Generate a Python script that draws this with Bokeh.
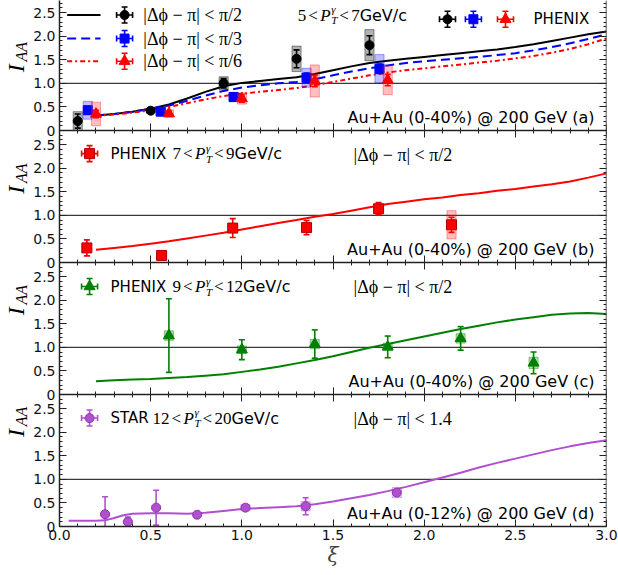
from math import pi
import numpy as np
from bokeh.plotting import figure
from bokeh.layouts import row
from bokeh.models import Range1d, LinearAxis, Label, Span, FixedTicker, PrintfTickFormatter
from bokeh.embed import file_html
from bokeh.resources import INLINE

# ---------------- ticks ----------------
x_ticks = [0.0, 0.5, 1.0, 1.5, 2.0, 2.5, 3.0]
x_tick_labels = ["0.0", "0.5", "1.0", "1.5", "2.0", "2.5", "3.0"]
x_minor_ticks = [round(0.1 * i, 1) for i in range(31)]
y_ticks = [0.0, 0.5, 1.0, 1.5, 2.0, 2.5]
y_tick_labels = ["0", "0.5", "1.0", "1.5", "2.0", "2.5"]
y_minor_ticks = [round(0.1 * i, 1) for i in range(29)]

# ---------------- panel (a): PHENIX 5<pT<7 ----------------
a_xi_black = [0.10, 0.50, 0.90, 1.30, 1.70]
a_iaa_black = [0.20, 0.42, 1.00, 1.52, 1.81]
a_err_black = [0.15, 0.05, 0.10, 0.19, 0.20]
a_sys_black = [0.20, 0.05, 0.14, 0.27, 0.33]

a_xi_blue = [0.155, 0.555, 0.955, 1.355, 1.755]
a_iaa_blue = [0.43, 0.40, 0.71, 1.12, 1.31]
a_err_blue = [0.08, 0.04, 0.06, 0.10, 0.10]
a_sys_blue = [0.19, 0.07, 0.10, 0.20, 0.30]

a_xi_red = [0.20, 0.60, 1.00, 1.40, 1.80]
a_iaa_red = [0.35, 0.36, 0.68, 1.05, 1.07]
a_err_red = [0.08, 0.05, 0.08, 0.12, 0.12]
a_sys_red = [0.25, 0.08, 0.12, 0.34, 0.31]

curve_xi = [0.2, 0.3, 0.4, 0.5, 0.6, 0.7, 0.8, 0.9, 1.0, 1.1, 1.2, 1.3, 1.4, 1.5,
            1.6, 1.7, 1.8, 1.9, 2.0, 2.1, 2.2, 2.3, 2.4, 2.5, 2.6, 2.7, 2.8, 2.9, 3.0]
a_curve_black = [0.32, 0.35, 0.40, 0.46, 0.55, 0.68, 0.82, 0.94, 1.01, 1.05, 1.09, 1.13, 1.20, 1.28,
                 1.36, 1.43, 1.48, 1.52, 1.56, 1.60, 1.64, 1.68, 1.72, 1.77, 1.83, 1.90, 1.97, 2.04, 2.10]
a_curve_blue = [0.32, 0.35, 0.40, 0.46, 0.53, 0.63, 0.74, 0.84, 0.91, 0.96, 1.00, 1.03, 1.09, 1.17,
                1.25, 1.32, 1.38, 1.43, 1.47, 1.50, 1.53, 1.56, 1.60, 1.64, 1.70, 1.77, 1.85, 1.94, 2.04]
a_curve_red = [0.31, 0.34, 0.38, 0.43, 0.50, 0.58, 0.66, 0.73, 0.78, 0.82, 0.86, 0.90, 0.96, 1.03,
               1.10, 1.17, 1.23, 1.28, 1.32, 1.36, 1.40, 1.44, 1.48, 1.53, 1.58, 1.65, 1.73, 1.83, 1.95]

# ---------------- panel (b): PHENIX 7<pT<9 ----------------
b_xi = [0.15, 0.56, 0.95, 1.355, 1.75, 2.15]
b_iaa = [0.31, 0.15, 0.73, 0.74, 1.14, 0.80]
b_err = [0.17, 0.08, 0.20, 0.15, 0.13, 0.16]
b_sys = [0.05, 0.05, 0.06, 0.06, 0.08, 0.30]
b_curve = [0.27, 0.31, 0.35, 0.40, 0.45, 0.51, 0.57, 0.63, 0.70, 0.77, 0.84, 0.90, 0.97, 1.03,
           1.10, 1.17, 1.24, 1.29, 1.34, 1.38, 1.43, 1.47, 1.52, 1.56, 1.61, 1.66, 1.72, 1.80, 1.89]

# ---------------- panel (c): PHENIX 9<pT<12 ----------------
c_xi = [0.60, 1.00, 1.40, 1.80, 2.20, 2.60]
c_iaa = [1.25, 0.95, 1.07, 1.01, 1.19, 0.67]
c_err = [0.78, 0.21, 0.30, 0.23, 0.25, 0.23]
c_sys = [0.10, 0.08, 0.10, 0.08, 0.10, 0.12]
c_curve = [0.28, 0.30, 0.32, 0.33, 0.35, 0.37, 0.40, 0.43, 0.48, 0.53, 0.59, 0.66, 0.73, 0.81,
           0.90, 0.99, 1.07, 1.15, 1.23, 1.31, 1.39, 1.46, 1.53, 1.59, 1.64, 1.69, 1.72, 1.73, 1.71]

# ---------------- panel (d): STAR 12<pT<20 ----------------
d_xi = [0.25, 0.375, 0.53, 0.755, 1.02, 1.35, 1.85]
d_iaa = [0.26, 0.10, 0.40, 0.25, 0.40, 0.43, 0.72]
d_err = [0.37, 0.10, 0.37, 0.04, 0.06, 0.18, 0.05]
d_sys = [0.04, 0.03, 0.04, 0.03, 0.07, 0.10, 0.11]
d_curve_xi = [0.05, 0.1, 0.2, 0.25, 0.3, 0.35, 0.4, 0.5, 0.6, 0.7, 0.8, 0.9, 1.0, 1.1, 1.2, 1.3,
              1.4, 1.5, 1.6, 1.7, 1.8, 1.9, 2.0, 2.1, 2.2, 2.3, 2.4, 2.5, 2.6, 2.7, 2.8, 2.9, 3.0]
d_curve = [0.12, 0.12, 0.12, 0.13, 0.18, 0.24, 0.27, 0.28, 0.28, 0.27, 0.29, 0.33, 0.37, 0.39, 0.41, 0.43,
           0.47, 0.53, 0.60, 0.67, 0.75, 0.84, 0.94, 1.04, 1.14, 1.25, 1.35, 1.44, 1.53, 1.62, 1.70, 1.77, 1.83]

# ---------------- styling / geometry ----------------
SANS = "DejaVu Sans"
SERIF = "Liberation Serif"
BLACK, BLUE, RED, GREEN, PURPLE = "#000000", "#0000ff", "#ff0000", "#008000", "#b050d0"
LAB_W = 30                     # strip that holds the I_AA titles
B_LEFT, B_RIGHT, B_BOTTOM = 29, 12, 45
FRAME_W = 547
PANEL_H = 132
FRAME_H = 526                  # four panels; the top one is cropped by the page edge
TOTAL_H = FRAME_H + B_BOTTOM
PX_X = FRAME_W / 3.0
PX_Y = PANEL_H / 2.8
BOX_HW = 0.025
AXC = "#222222"
PANEL_BOTTOM = {"a": 3 * PANEL_H, "b": 2 * PANEL_H, "c": PANEL_H, "d": 0}   # px above frame bottom
PANEL_TOP = {k: min(2.8, (FRAME_H - v) / PX_Y) for k, v in PANEL_BOTTOM.items()}

p = figure(width=B_LEFT + FRAME_W + B_RIGHT, height=TOTAL_H,
           x_range=Range1d(0, 3), y_range=Range1d(0, FRAME_H),
           x_axis_location=None, y_axis_location=None, title=None,
           toolbar_location=None, output_backend="svg",
           min_border_left=B_LEFT, min_border_right=B_RIGHT,
           min_border_top=0, min_border_bottom=B_BOTTOM)
p.outline_line_color = None
p.background_fill_color = "white"
p.border_fill_color = "white"
p.grid.visible = False
p.xgrid.grid_line_color = None
p.ygrid.grid_line_color = None
p.extra_y_ranges = {k: Range1d(-v / PX_Y, (FRAME_H - v) / PX_Y) for k, v in PANEL_BOTTOM.items()}

# positions of every panel's I_AA ticks on the shared vertical pixel scale
y_major_pos, y_major_lab, y_minor_pos = [], [], []
for k, base in PANEL_BOTTOM.items():
    for t, s in zip(y_ticks, y_tick_labels):
        if t <= PANEL_TOP[k]:
            y_major_pos.append(round(base + t * PX_Y, 4))
            y_major_lab.append(s)
    for t in y_minor_ticks:
        if t <= PANEL_TOP[k]:
            y_minor_pos.append(round(base + t * PX_Y, 4))


def tick_pair(make, major_pos, minor_pos, tin_major, tout_major, tin_minor, tout_minor, side):
    """Label-free axes pinned in place: long ticks at major, short ticks at minor positions."""
    for pos, tin, tout, line in ((major_pos, tin_major, tout_major, True),
                                 (minor_pos, tin_minor, tout_minor, False)):
        ax = make()
        ax.ticker = FixedTicker(ticks=[], minor_ticks=pos)
        ax.major_tick_in = 0
        ax.major_tick_out = 0
        ax.minor_tick_in = tin
        ax.minor_tick_out = tout
        ax.minor_tick_line_color = AXC
        ax.minor_tick_line_width = 1
        ax.major_label_standoff = 0
        ax.axis_line_width = 1.5
        ax.axis_line_color = AXC if line else None
        p.add_layout(ax, side)


def style_labeled(ax, ticks, minor, labels):
    ax.ticker = FixedTicker(ticks=ticks, minor_ticks=minor)
    ax.major_tick_in = 7
    ax.major_tick_out = 0
    ax.minor_tick_in = 3
    ax.minor_tick_out = 0
    ax.axis_line_width = 1.5
    ax.axis_line_color = AXC
    ax.major_tick_line_color = AXC
    ax.minor_tick_line_color = AXC
    ax.formatter = PrintfTickFormatter(format="%.1f")
    ax.major_label_overrides = {t: s for t, s in zip(ticks, labels)}
    ax.major_label_text_font = SANS
    ax.major_label_text_font_size = "14px"
    ax.major_label_text_color = "#111111"
    ax.major_label_standoff = 4


# left: one labelled axis carrying the ticks of all four panels
ly = LinearAxis()
style_labeled(ly, y_major_pos, y_minor_pos, y_major_lab)
p.add_layout(ly, "left")
# right: ticks only
tick_pair(lambda: LinearAxis(fixed_location=3.0), y_major_pos, y_minor_pos, 7, 0, 3, 0, "right")
# boundaries between panels: ticks into both neighbouring panels
for k in "abc":
    tick_pair(lambda k=k: LinearAxis(fixed_location=PANEL_BOTTOM[k]),
              x_ticks, x_minor_ticks, 7, 7, 3, 3, "below")
# bottom axis with tick labels and the xi title
bx = LinearAxis()
style_labeled(bx, x_ticks, x_minor_ticks, x_tick_labels)
bx.major_label_standoff = 3
bx.axis_label = "ξ"
bx.axis_label_text_font = "DejaVu Serif"
bx.axis_label_text_font_style = "italic"
bx.axis_label_text_font_size = "20px"
bx.axis_label_standoff = 0
p.add_layout(bx, "below")

for k in "abcd":
    p.add_layout(Span(location=1.0, dimension="width", y_range_name=k, line_color="#3a3a3a",
                      line_width=1.3, level="underlay"))


def draw_points(k, xs, ys, err, sys, marker, color, size, box_alpha, edge=None):
    xs = np.asarray(xs, float)
    ys = np.asarray(ys, float)
    err = np.asarray(err, float)
    sys = np.asarray(sys, float)
    p.quad(left=xs - BOX_HW, right=xs + BOX_HW, bottom=ys - sys, top=ys + sys, y_range_name=k,
           fill_color=color, fill_alpha=box_alpha, line_color=color, line_alpha=box_alpha + 0.1)
    p.segment(x0=xs, y0=ys - err, x1=xs, y1=ys + err, y_range_name=k, line_color=color, line_width=1.6)
    p.scatter(x=np.concatenate([xs, xs]), y=np.concatenate([ys - err, ys + err]), y_range_name=k,
              marker="dash", size=6, line_color=color, line_width=1.6)
    p.scatter(xs, ys, marker=marker, size=size, fill_color=color, y_range_name=k,
              line_color=edge or color, line_width=1)


def legend_marker(k, x, y, marker, color, size, edge=None):
    dy = 8 / PX_Y
    dx = 8 / PX_X
    p.segment(x0=[x], y0=[y - dy], x1=[x], y1=[y + dy], y_range_name=k, line_color=color, line_width=1.6)
    p.segment(x0=[x - dx], y0=[y], x1=[x + dx], y1=[y], y_range_name=k, line_color=color, line_width=1.6)
    p.scatter(x=[x, x], y=[y - dy, y + dy], marker="dash", size=6, y_range_name=k,
              line_color=color, line_width=1.6)
    p.scatter(x=[x - dx, x + dx], y=[y, y], marker="dash", angle=pi / 2, size=6, y_range_name=k,
              line_color=color, line_width=1.6)
    p.scatter([x], [y], marker=marker, size=size, fill_color=color, y_range_name=k,
              line_color=edge or color)


def txt(k, x, y, text, font=SANS, size="15px", style="normal", dx=0, dy=0, align="left"):
    p.add_layout(Label(x=x, y=y, x_offset=dx, y_offset=dy, text=text, text_font=font, y_range_name=k,
                       text_font_size=size, text_font_style=style, text_align=align,
                       text_baseline="middle", text_color="black"))


def pt_text(k, x, y, prefix, lo, hi, prefix_w=62):
    off = 0
    if prefix:
        txt(k, x, y, prefix, SANS, "15px")
        off = prefix_w
    txt(k, x, y, lo, SERIF, "17px", dx=off)
    off += 8.5 * len(lo) + 2
    txt(k, x, y, "<", SERIF, "17px", dx=off)
    off += 12
    txt(k, x, y, "P", SERIF, "17px", "italic", dx=off)
    off += 11
    txt(k, x, y, "γ", SERIF, "11px", "italic", dx=off, dy=6)
    txt(k, x, y, "T", SERIF, "11px", "italic", dx=off, dy=-5)
    off += 8
    txt(k, x, y, "<", SERIF, "17px", dx=off)
    off += 12
    txt(k, x, y, hi, SERIF, "17px", dx=off)
    off += 8.5 * len(hi)
    txt(k, x, y, "GeV/c", SANS, "16px", dx=off)


def dphi(k, x, y, text):
    txt(k, x, y, text, SERIF, "18px")


def corner(k, text):
    txt(k, 2.962, 0.28, text, SANS, "16px", align="right")


# ---------------- panel (a) ----------------
p.line(curve_xi, a_curve_black, y_range_name="a", line_color=BLACK, line_width=2)
p.line(curve_xi, a_curve_blue, y_range_name="a", line_color=BLUE, line_width=2, line_dash="9 5")
p.line(curve_xi, a_curve_red, y_range_name="a", line_color=RED, line_width=2, line_dash="5 3 2 3")
draw_points("a", a_xi_black, a_iaa_black, a_err_black, a_sys_black, "circle", BLACK, 9, 0.3)
draw_points("a", a_xi_blue, a_iaa_blue, a_err_blue, a_sys_blue, "square", BLUE, 9, 0.25)
draw_points("a", a_xi_red, a_iaa_red, a_err_red, a_sys_red, "triangle", RED, 11, 0.25)
for yy, col, dash in [(2.45, BLACK, "solid"), (1.95, BLUE, "9 5"), (1.47, RED, "5 3 2 3")]:
    p.line([0.042, 0.225], [yy, yy], y_range_name="a", line_color=col, line_width=2, line_dash=dash)
legend_marker("a", 0.357, 2.45, "circle", BLACK, 9)
legend_marker("a", 0.357, 1.95, "square", BLUE, 9)
legend_marker("a", 0.357, 1.47, "triangle", RED, 11)
dphi("a", 0.46, 2.45, "|Δϕ − π| < π/2")
dphi("a", 0.46, 1.95, "|Δϕ − π| < π/3")
dphi("a", 0.46, 1.47, "|Δϕ − π| < π/6")
pt_text("a", 1.306, 2.45, "", "5", "7")
legend_marker("a", 2.128, 2.36, "circle", BLACK, 9)
legend_marker("a", 2.27, 2.36, "square", BLUE, 9)
legend_marker("a", 2.446, 2.36, "triangle", RED, 11)
txt("a", 2.60, 2.36, "PHENIX", SANS, "15px")
corner("a", "Au+Au (0-40%) @ 200 GeV  (a)")

# ---------------- panel (b) ----------------
p.line(curve_xi, b_curve, y_range_name="b", line_color=RED, line_width=2)
draw_points("b", b_xi, b_iaa, b_err, b_sys, "square", RED, 10, 0.25, edge="#b00000")
legend_marker("b", 0.165, 2.31, "square", RED, 10, edge="#b00000")
pt_text("b", 0.28, 2.31, "PHENIX", "7", "9")
dphi("b", 1.613, 2.28, "|Δϕ − π| < π/2")
corner("b", "Au+Au (0-40%) @ 200 GeV  (b)")

# ---------------- panel (c) ----------------
p.line(curve_xi, c_curve, y_range_name="c", line_color=GREEN, line_width=2)
draw_points("c", c_xi, c_iaa, c_err, c_sys, "triangle", GREEN, 11, 0.3)
legend_marker("c", 0.165, 2.29, "triangle", GREEN, 11)
pt_text("c", 0.28, 2.29, "PHENIX", "9", "12")
dphi("c", 1.613, 2.29, "|Δϕ − π| < π/2")
corner("c", "Au+Au (0-40%) @ 200 GeV  (c)")

# ---------------- panel (d) ----------------
p.line(d_curve_xi, d_curve, y_range_name="d", line_color=PURPLE, line_width=2)
draw_points("d", d_xi, d_iaa, d_err, d_sys, "circle", PURPLE, 9, 0.3, edge="#8a3aa8")
legend_marker("d", 0.165, 2.30, "circle", PURPLE, 9, edge="#8a3aa8")
pt_text("d", 0.28, 2.30, "STAR", "12", "20", prefix_w=42)
dphi("d", 1.613, 2.29, "|Δϕ − π| < 1.4")
corner("d", "Au+Au (0-12%) @ 200 GeV  (d)")

# ---------------- y-axis title strip (I_AA for every panel) ----------------
lab = figure(width=LAB_W, height=TOTAL_H, x_range=Range1d(0, LAB_W), y_range=Range1d(TOTAL_H, 0),
             x_axis_location=None, y_axis_location=None, title=None, toolbar_location=None,
             output_backend="svg", min_border=0)
lab.outline_line_color = None
lab.grid.visible = False
for k, v in PANEL_BOTTOM.items():
    bottom = FRAME_H - v
    lab.add_layout(Label(x=15, y=bottom - 1.20 * PX_Y, text="I", angle=pi / 2,
                         text_font=SERIF, text_font_style="italic", text_font_size="24px",
                         text_align="center", text_baseline="middle", text_color="black"))
    lab.add_layout(Label(x=21, y=bottom - 1.58 * PX_Y, text="AA", angle=pi / 2,
                         text_font=SERIF, text_font_style="italic", text_font_size="16px",
                         text_align="center", text_baseline="middle", text_color="black"))

layout = row(lab, p, spacing=0)
open("out.html", "w").write(file_html(layout, INLINE))
